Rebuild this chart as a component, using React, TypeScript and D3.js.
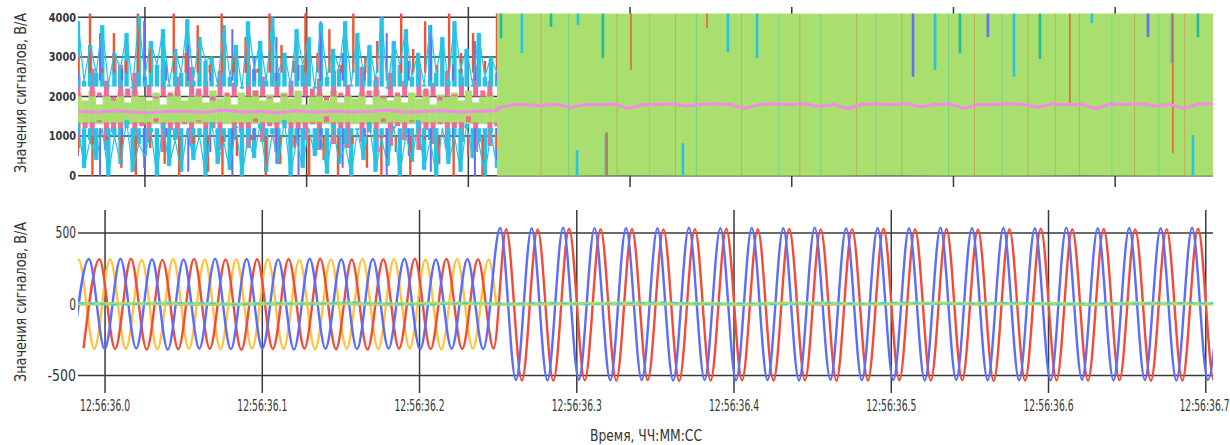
import * as d3 from 'd3';
import React from 'react';

const W = 1230;
const H = 445;

// time offsets (s) from 12:56:36.0
const timeTicks = [0, 0.1, 0.2, 0.3, 0.4, 0.5, 0.6, 0.7];
const timeTickLabels = ['12:56:36.0', '12:56:36.1', '12:56:36.2', '12:56:36.3', '12:56:36.4', '12:56:36.5', '12:56:36.6', '12:56:36.7'];
const topGridTimes = [0, 0.1, 0.2, 0.3, 0.4, 0.5, 0.6];
const topYTicks = [0, 1000, 2000, 3000, 4000];
const bottomYTicks = [-500, 0, 500];
const bottomYLabels = ['-500', '0', '500'];

// ---- bottom panel: extremes of each phase (half-period spacing) ----
const HALF_PRE = 0.01003;
const HALF_POST = 0.01;

const blueBeforeStart = -0.0203;
const blueBefore = [-312, 318, -315, 320, -310, 316, -318, 314, -312, 320, -316, 318, -310, 315, -318, 320, -312, 316, -315, 318, -310, 320, -316, 314, -312, 318, -315];
const blueAfterStart = 0.2513;
const blueAfter = [536, -532, 534, -535, 538, -530, 535, -534, 536, -532, 534, -536, 537, -531, 535, -534, 536, -533, 534, -535, 538, -530, 535, -534, 536, -532, 534, -536, 537, -531, 535, -534, 536, -533, 534, -535, 538, -530, 535, -534, 536, -532, 534, -536, 537, -531, 535];

const redBeforeStart = -0.01363;
const redBefore = [-308, 316, -314, 320, -318, 312, -316, 318, -312, 315, -320, 316, -314, 318, -310, 320, -316, 314, -318, 316, -312, 320, -315, 318, -314, 316, -310];
const redAfterStart = 0.2551;
const redAfter = [528, -535, 526, -537, 530, -534, 527, -536, 529, -533, 526, -538, 528, -535, 530, -534, 527, -536, 529, -533, 526, -537, 528, -535, 530, -534, 527, -536, 529, -533, 526, -538, 528, -535, 530, -534, 527, -536, 529, -533, 526, -537, 528, -535, 530, -534, 527];

const yellowStart = -0.0269;
const yellowBefore = [-310, 314, -312, 316, -314, 312, -316, 318, -312, 314, -315, 316, -310, 318, -314, 312, -316, 315, -312, 318, -314, 316, -310, 314, -316, 318, -312, 315];
const yellowEnd: [number, number] = [0.2488, 0];

const zeroSpan: [number, number] = [-0.0172, 0.7046];
const greenZero = [6, 2, 8, 4, 0, 6, 3, 7, 2, 5, 8, 1, 6, 4, 7, 3, 5, 0, 6, 8, 2, 5, 7, 3, 6, 4, 1, 7, 5, 3];
const cyanZero = [10, -4, 6, 12, -2, 8, 0, 14, 4, -6, 10, 2, 12, -2, 6, 16, 0, 8, -4, 10, 4, 14, -2, 6, 12, 0, 8, 2, 10, 6];
const pinkZero = [-2, 4, 0, -4, 2, -2, 6, 0, -4, 2, 4, -2, 0, 6, -4, 2, 0, -2, 4, -4, 2, 0, 6, -2, 4, 0, -4, 2, 0, 4];

// ---- top panel (raw ADC codes): per-sample swing of each band from its resting level ----
const preSpan: [number, number] = [-0.0414, 0.2177];
const postSpan: [number, number] = [0.2177, 0.6605];

const cyanHiRest = 2250;
const cyanHi = [3900, 2400, 3300, 2600, 3800, 2300, 3100, 2700, 3600, 2200, 4000, 2500, 3400, 2800, 3700, 2300, 3200, 2600, 3950, 2400, 3500, 2900, 3000, 2300, 3800, 2500, 3300, 2200, 3900, 2700, 3400, 2400, 4000, 2600, 3100, 2300, 3700, 2800, 3500, 2200, 3850, 2500, 3200, 2700, 3900, 2300, 3600, 2600, 3300, 2400, 4000, 2200, 3400, 2800, 3700, 2500, 3100, 2300, 3800, 2600, 3500, 2400, 3900, 2700, 3200, 2300, 3600, 2500, 3000, 2600];
const cyanLoRest = 1200;
const cyanLo = [1300, 200, 900, 400, 1200, 0, 1000, 300, 1400, 100, 800, 500, 1100, 0, 1300, 250, 900, 100, 1200, 400, 1000, 0, 1350, 300, 850, 150, 1250, 0, 950, 450, 1300, 100, 1050, 300, 1400, 0, 900, 200, 1200, 500, 1000, 50, 1300, 300, 800, 0, 1150, 400, 1350, 100, 950, 250, 1250, 0, 1050, 350, 1400, 150, 900, 0, 1200, 300, 1000, 100, 1300, 450, 850, 0, 1100, 200];
const pinkHiRest = 2000;
const pinkHi = [2500, 2000, 2700, 2100, 2400, 1900, 2800, 2200, 2600, 2000, 2300, 1950, 2700, 2100, 2500, 2000, 2750, 2200, 2400, 1900, 2650, 2100, 2350, 2000, 2800, 2150, 2500, 1950, 2600, 2050, 2400, 2000, 2700, 2200, 2450, 1900, 2650, 2100, 2300, 2000, 2750, 2150, 2500, 1950, 2600, 2100, 2400, 2000, 2700, 2200, 2350, 1900, 2650, 2050, 2500, 2000, 2800, 2150, 2400, 2000];
const pinkLoRest = 1350;
const pinkLo = [700, 1200, 800, 1400, 650, 1100, 900, 1300, 700, 1250, 850, 1450, 600, 1150, 950, 1300, 750, 1400, 800, 1200, 650, 1350, 900, 1100, 700, 1450, 850, 1250, 600, 1400, 750, 1150, 900, 1300, 650, 1500, 800, 1200, 700, 1350, 850, 1100, 600, 1450, 750, 1250, 900, 1400, 650, 1150, 800, 1300, 700, 1200, 850, 1500, 600, 1350, 750, 1250];
const greenRest = 1300;
const greenPre = [2100, 1900, 2150, 1800, 2050, 1950, 2100, 1850, 2150, 2000, 1900, 2100, 1800, 2050, 2150, 1900, 2000, 2100, 1850, 2150, 1950, 2050, 1800, 2100, 2000, 2150, 1900, 2050, 1850, 2100, 1950, 2150, 1800, 2000, 2100, 1900, 2150, 1850, 2050, 1950, 2100, 1800, 2150, 2000, 1900, 2050, 1850, 2100, 1950, 2150, 1800, 2050, 2000, 2100, 1900, 2150, 1850, 2000, 2100, 1950];
const redHiRest = 2600;
const redHi = [3000, 4095, 2700, 3600, 2900, 4095, 3200, 2600, 4095, 3100, 3800, 2800, 4095, 3000, 3500, 2700, 4095, 3300, 2900, 4095, 3100, 3700, 2800, 4095, 3000, 3400, 2600, 4095, 3200, 3900, 2800, 4095, 3100, 3600, 2900, 4095];
const redLoRest = 1000;
const redLo = [600, 0, 900, 200, 0, 700, 300, 0, 800, 100, 0, 500, 900, 0, 300, 700, 0, 400, 0, 800, 200, 0, 600, 0, 900, 300, 0, 500, 0, 700];
const blueHiRest = 2400;
const blueHi = [3000, 3600, 2700, 3900, 2900, 3300, 2600, 3700, 3000, 3500, 2800, 3900, 3100, 2700, 3600, 2900, 3800, 2800, 3400, 3000];
const blueLoRest = 1200;
const blueLo = [500, 0, 800, 200, 1000, 100, 600, 0, 900, 300, 0, 700, 200, 1000, 0, 500, 100, 800, 0, 400];
const violetPre = [1620, 1600, 1640, 1610, 1590, 1630, 1620, 1600, 1650, 1610, 1620, 1590, 1640, 1600, 1630, 1610, 1620, 1650, 1600, 1620, 1640, 1610, 1630, 1640];
const violetPost = [1700, 1790, 1800, 1760, 1810, 1720, 1800, 1790, 1810, 1700, 1790, 1800, 1810, 1760, 1800, 1820, 1790, 1700, 1800, 1810, 1790, 1820, 1750, 1800, 1690, 1800, 1810, 1790, 1820, 1740, 1800, 1810, 1700, 1800, 1790, 1820, 1800, 1730, 1810, 1790, 1800, 1690, 1810, 1800, 1820, 1760, 1800, 1700, 1810, 1820];
const greenPostMax = [4095, 4095, 4090, 4095, 4095, 4092, 4095, 4095, 4090, 4095, 4095, 4095];
const greenPostMin = [0, 0, 5, 0, 0, 0, 4, 0, 0, 6, 0, 0];

// streaks visible through the saturated green block
const streakT = [0.2202, 0.2331, 0.2511, 0.2678, 0.2832, 0.3006, 0.3476, 0.3605, 0.3785, 0.475, 0.4886, 0.504, 0.5213, 0.5374, 0.5535, 0.572, 0.5856, 0.6203, 0.6351, 0.6512, 0.6357, 0.2672, 0.2851, 0.2857, 0.3327, 0.6481];
const streakLo = [3470, 3100, 3760, 3800, 2970, 2670, 3730, 3120, 2970, 2500, 2670, 3090, 3500, 2500, 2950, 1830, 3850, 3500, 2840, 3500, 570, 0, 0, 0, 0, 0];
const streakHi = [4095, 4095, 4095, 4095, 4095, 4095, 4095, 4095, 4095, 4095, 4095, 4095, 4095, 4095, 4095, 4095, 4095, 4095, 4095, 4095, 4095, 650, 1070, 1100, 820, 1030];
const streakKind = ['teal', 'cyan', 'teal', 'cyan', 'teal', 'red', 'red', 'cyan', 'cyan', 'blue', 'cyan', 'teal', 'blue', 'cyan', 'teal', 'red', 'cyan', 'blue', 'cyan', 'teal', 'red', 'cyan', 'cyan', 'red', 'cyan', 'cyan'];
const faintT = [0.245, 0.262, 0.292, 0.312, 0.328, 0.341, 0.369, 0.392, 0.405, 0.418, 0.44, 0.452, 0.468, 0.497, 0.513, 0.53, 0.546, 0.563, 0.578, 0.598, 0.612, 0.627, 0.643];
const faintKind = ['red', 'teal', 'red', 'cyan', 'red', 'teal', 'red', 'cyan', 'red', 'teal', 'red', 'cyan', 'red', 'teal', 'red', 'cyan', 'red', 'teal', 'red', 'cyan', 'red', 'teal', 'red'];

const topColors: Record<string, string> = {
  cyan: '#27c3e6', red: '#ec5536', pink: '#eb6b99', green: '#a9df6f',
  violet: '#f28be6', blue: '#6a6cf2', teal: '#1fbd9c',
};
const botColors = { blue: '#5c6cff', red: '#f54a38', yellow: '#ffc33c', green: '#a6de6c', cyan: '#30d0e6', pink: '#f27ba2' };

type P = [number, number];
const seq = (start: number, step: number, values: number[]): P[] => values.map((v, i) => [start + i * step, v]);
const spread = (span: P, values: number[]): P[] => seq(span[0], (span[1] - span[0]) / (values.length - 1), values);

const FONT = "'DejaVu Sans', sans-serif";
const X0 = 78;
const X1 = 1213;

export default function App() {
  const xb = d3.scaleLinear().domain([-0.0172, 0.7046]).range([X0, X1]);
  const yb = d3.scaleLinear().domain([-623, 662]).range([393, 210]);
  const xt = d3.scaleLinear().domain([-0.0414, 0.6605]).range([X0, X1]);
  const yt = d3.scaleLinear().domain([-285, 4260]).range([187, 7]);

  const lineB = d3.line<P>().x(d => xb(d[0])).y(d => yb(d[1])).curve(d3.curveMonotoneX);
  const lineBz = d3.line<P>().x(d => xb(d[0])).y(d => yb(d[1]));
  const lineT = d3.line<P>().x(d => xt(d[0])).y(d => yt(d[1]));
  const areaT = d3.area<[number, number, number]>().x(d => xt(d[0])).y0(d => yt(d[1])).y1(d => yt(d[2]));

  const blue = [...seq(blueBeforeStart, HALF_PRE, blueBefore), ...seq(blueAfterStart, HALF_POST, blueAfter)];
  const red = [...seq(redBeforeStart, HALF_PRE, redBefore), ...seq(redAfterStart, HALF_POST, redAfter)];
  const yellow = [...seq(yellowStart, HALF_PRE, yellowBefore), yellowEnd];

  const gStep = (postSpan[1] - postSpan[0]) / (greenPostMax.length - 1);
  const greenBand = greenPostMax.map((v, i) => [postSpan[0] + i * gStep, greenPostMin[i], v] as [number, number, number]);

  const spikes: { data: number[]; base: number; color: string; w: number }[] = [
    { data: greenPre, base: greenRest, color: topColors.green, w: 7.4 },
    { data: pinkHi, base: pinkHiRest, color: topColors.pink, w: 5 },
    { data: pinkLo, base: pinkLoRest, color: topColors.pink, w: 5 },
    { data: cyanHi, base: cyanHiRest, color: topColors.cyan, w: 4.4 },
    { data: cyanLo, base: cyanLoRest, color: topColors.cyan, w: 4.4 },
    { data: blueHi, base: blueHiRest, color: topColors.blue, w: 2 },
    { data: blueLo, base: blueLoRest, color: topColors.blue, w: 2 },
    { data: redHi, base: redHiRest, color: topColors.red, w: 2.4 },
    { data: redLo, base: redLoRest, color: topColors.red, w: 2.4 },
  ];

  const violet = [...spread(preSpan, violetPre), ...spread(postSpan, violetPost)];
  const txt = { fill: '#333', lengthAdjust: 'spacingAndGlyphs' as const };

  return (
    <svg width={W} height={H} style={{ position: 'fixed', left: 0, top: 0, background: '#fff', fontStretch: 'condensed' }} fontFamily={FONT}>
      <defs>
        <clipPath id="clip-top"><rect x={X0} y={7} width={X1 - X0} height={180} /></clipPath>
        <clipPath id="clip-bot"><rect x={X0} y={210} width={X1 - X0} height={183} /></clipPath>
      </defs>

      {/* top panel grid */}
      <g stroke="#3a3a3a" strokeWidth={1.5}>
        {topYTicks.map(v => <line key={v} x1={X0} x2={X1} y1={yt(v)} y2={yt(v)} />)}
        {topGridTimes.map(t => <line key={t} x1={xt(t)} x2={xt(t)} y1={7} y2={187} />)}
      </g>
      <g clipPath="url(#clip-top)" fill="none" strokeLinejoin="round">
        {spikes.map((s, i) => spread(preSpan, s.data).map((p, j) => (
          <line key={i + '-' + j} x1={xt(p[0])} x2={xt(p[0])} y1={yt(s.base)} y2={yt(p[1])} stroke={s.color} strokeWidth={s.w} />
        )))}
        <path d={lineT(spread(preSpan, cyanHi)) ?? ''} stroke={topColors.cyan} strokeWidth={1.2} />
        <path d={lineT(spread(preSpan, cyanLo)) ?? ''} stroke={topColors.cyan} strokeWidth={1.2} />
        <path d={areaT(greenBand) ?? ''} fill={topColors.green} stroke="none" />
        {faintT.map((t, i) => (
          <line key={'f' + i} x1={xt(t)} x2={xt(t)} y1={yt(0)} y2={yt(4095)} stroke={topColors[faintKind[i]]} strokeWidth={0.8} opacity={0.45} />
        ))}
        {streakT.map((t, i) => (
          <line key={'s' + i} x1={xt(t)} x2={xt(t)} y1={yt(streakLo[i])} y2={yt(streakHi[i])}
            stroke={topColors[streakKind[i]]} strokeWidth={streakKind[i] === 'red' ? 1.4 : 2.6} />
        ))}
        <path d={lineT(violet) ?? ''} stroke={topColors.violet} strokeWidth={3} />
      </g>
      <g fontSize={12} fontWeight="bold" textAnchor="end">
        {topYTicks.map(v => (
          <text key={v} x={76} y={yt(v)} dy="0.36em" textLength={String(v).length * 6.8} {...txt}>{v}</text>
        ))}
      </g>
      <text transform="translate(20,93) rotate(-90)" textAnchor="middle" dominantBaseline="central" fontSize={16} textLength={160} {...txt}>
        Значения сигналов, В/А
      </text>

      {/* bottom panel */}
      <g stroke="#3a3a3a" strokeWidth={1.5}>
        {bottomYTicks.map(v => <line key={v} x1={X0} x2={X1} y1={yb(v)} y2={yb(v)} />)}
        {timeTicks.map(t => <line key={t} x1={xb(t)} x2={xb(t)} y1={210} y2={393} />)}
      </g>
      <g clipPath="url(#clip-bot)" fill="none" strokeLinejoin="round">
        <path d={lineB(yellow) ?? ''} stroke={botColors.yellow} strokeWidth={2.4} />
        <path d={lineB(red) ?? ''} stroke={botColors.red} strokeWidth={2.4} />
        <path d={lineB(blue) ?? ''} stroke={botColors.blue} strokeWidth={2.4} />
        <path d={lineBz(spread(zeroSpan, pinkZero)) ?? ''} stroke={botColors.pink} strokeWidth={2} />
        <path d={lineBz(spread(zeroSpan, greenZero)) ?? ''} stroke={botColors.green} strokeWidth={3.5} />
        <path d={lineBz(spread(zeroSpan, cyanZero)) ?? ''} stroke={botColors.cyan} strokeWidth={1.4} strokeDasharray="6 5" />
      </g>
      <g fontSize={15} textAnchor="end">
        {bottomYTicks.map((v, i) => (
          <text key={v} x={76} y={yb(v)} dy="0.36em" textLength={bottomYLabels[i].replace('-', '').length * 6.8 + (v < 0 ? 8 : 0)} {...txt}>{bottomYLabels[i]}</text>
        ))}
      </g>
      <g fontSize={16} textAnchor="middle">
        {timeTicks.map((t, i) => (
          <text key={t} x={Math.min(xb(t), 1204.5)} y={405} dy="0.36em" textLength={50} {...txt}>{timeTickLabels[i]}</text>
        ))}
      </g>
      <text transform="translate(20,302) rotate(-90)" textAnchor="middle" dominantBaseline="central" fontSize={16} textLength={160} {...txt}>
        Значения сигналов, В/А
      </text>
      <text x={646} y={441} textAnchor="middle" fontSize={16} textLength={112} {...txt}>Время, ЧЧ:ММ:СС</text>
    </svg>
  );
}
